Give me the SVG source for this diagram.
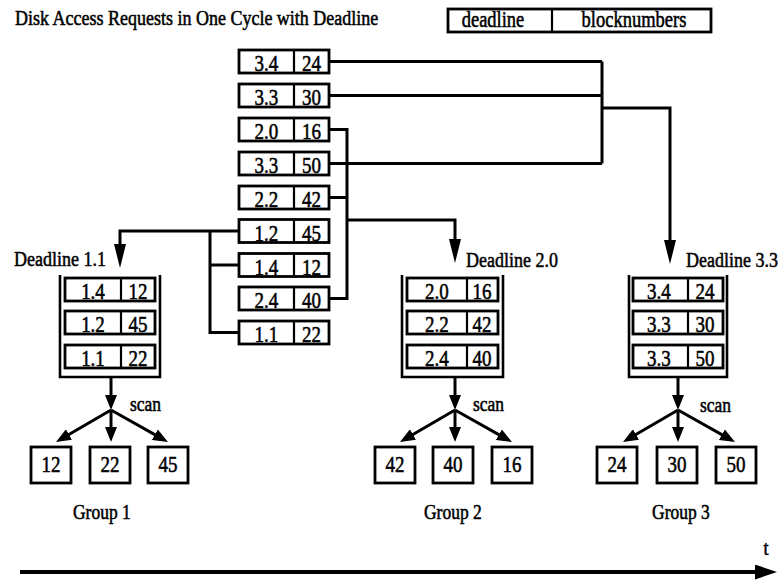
<svg xmlns="http://www.w3.org/2000/svg" width="778" height="586" viewBox="0 0 778 586">
  <style>
    .box { fill: #fff; stroke: #000; stroke-width: 2.8; }
    .sep { stroke: #000; stroke-width: 2.2; }
    .bin { fill: none; stroke: #000; stroke-width: 2.6; }
    .wire { fill: none; stroke: #000; stroke-width: 3; }
    .axis { fill: none; stroke: #000; stroke-width: 4; }
    .t { font-family: "Liberation Serif", "Times New Roman", serif; fill: #000;
         stroke: #000; stroke-width: 0.45;
         transform-box: fill-box; transform-origin: center; transform: scaleY(1.2); }
    .num { font-size: 19px; text-anchor: middle; }
    .lbl { font-size: 18px; }
    .sm { font-size: 17.5px; }
  </style>
  <defs>
    <marker id="headL" markerUnits="userSpaceOnUse" viewBox="0 0 24 12" markerWidth="24" markerHeight="12" refX="14" refY="6" orient="auto">
      <path d="M0,0 L24,6 L0,12 z" fill="#000"/>
    </marker>
    <marker id="headS" markerUnits="userSpaceOnUse" viewBox="0 0 15 12" markerWidth="15" markerHeight="12" refX="7" refY="6" orient="auto">
      <path d="M0,0 L15,6 L0,12 z" fill="#000"/>
    </marker>
    <marker id="headT" markerUnits="userSpaceOnUse" viewBox="0 0 22 15" markerWidth="22" markerHeight="15" refX="12" refY="7.5" orient="auto">
      <path d="M0,0 L22,7.5 L0,15 z" fill="#000"/>
    </marker>
    <!-- scan fan: shaft from the queue bottom, then three arrows to the block groups -->
    <g id="fan">
      <path class="wire" d="M0,377 V402" marker-end="url(#headS)"/>
      <path class="wire" d="M0,410 L-48.1,438" marker-end="url(#headS)"/>
      <path class="wire" d="M0,410 V434" marker-end="url(#headS)"/>
      <path class="wire" d="M0,410 L50,438.1" marker-end="url(#headS)"/>
    </g>
  </defs>

  <rect width="778" height="586" fill="#fff"/>

  <!-- heading and legend -->
  <g id="title">
    <text class="t lbl" x="15" y="23.8">Disk Access Requests in One Cycle with Deadline</text>
  </g>
  <g id="legend">
    <rect class="box" x="448" y="9" width="263" height="23"/>
    <line class="sep" x1="552" y1="9" x2="552" y2="32"/>
    <text class="t lbl" x="493" y="26" text-anchor="middle" style="font-size:18.5px">deadline</text>
    <text class="t lbl" x="634" y="26" text-anchor="middle" style="font-size:18.5px">blocknumbers</text>
  </g>

  <!-- connectors -->
  <g id="connectors">
    <!-- deadline 3.x requests -->
    <path class="wire" d="M329,61.5 H602"/>
    <path class="wire" d="M329,95.5 H602"/>
    <path class="wire" d="M329,163.5 H602"/>
    <path class="wire" d="M602,61.5 V163.5"/>
    <path class="wire" d="M602,108 H670 V254" marker-end="url(#headL)"/>
    <!-- deadline 2.x requests -->
    <path class="wire" d="M329,129.5 H347 V298.5 H329"/>
    <path class="wire" d="M329,197.5 H347"/>
    <path class="wire" d="M347,220 H455 V253" marker-end="url(#headL)"/>
    <!-- deadline 1.x requests -->
    <path class="wire" d="M239,231 H120 V258" marker-end="url(#headL)"/>
    <path class="wire" d="M210,231 V332.5 H239"/>
    <path class="wire" d="M210,265 H239"/>
    <!-- scan fans -->
    <use href="#fan" x="111"/>
    <use href="#fan" x="455"/>
    <use href="#fan" x="678"/>
    <!-- time axis -->
    <path class="axis" d="M20,572 H767" marker-end="url(#headT)"/>
  </g>

  <!-- incoming requests: deadline | block number -->
  <g id="req-1">
    <rect class="box" x="239" y="50" width="90" height="23"/>
    <line class="sep" x1="294" y1="50" x2="294" y2="73"/>
    <text class="t num" x="266.5" y="70.2">3.4</text>
    <text class="t num" x="311.5" y="70.2">24</text>
  </g>
  <g id="req-2">
    <rect class="box" x="239" y="84" width="90" height="23"/>
    <line class="sep" x1="294" y1="84" x2="294" y2="107"/>
    <text class="t num" x="266.5" y="104.2">3.3</text>
    <text class="t num" x="311.5" y="104.2">30</text>
  </g>
  <g id="req-3">
    <rect class="box" x="239" y="118" width="90" height="23"/>
    <line class="sep" x1="294" y1="118" x2="294" y2="141"/>
    <text class="t num" x="266.5" y="138.2">2.0</text>
    <text class="t num" x="311.5" y="138.2">16</text>
  </g>
  <g id="req-4">
    <rect class="box" x="239" y="152" width="90" height="23"/>
    <line class="sep" x1="294" y1="152" x2="294" y2="175"/>
    <text class="t num" x="266.5" y="172.2">3.3</text>
    <text class="t num" x="311.5" y="172.2">50</text>
  </g>
  <g id="req-5">
    <rect class="box" x="239" y="186" width="90" height="23"/>
    <line class="sep" x1="294" y1="186" x2="294" y2="209"/>
    <text class="t num" x="266.5" y="206.2">2.2</text>
    <text class="t num" x="311.5" y="206.2">42</text>
  </g>
  <g id="req-6">
    <rect class="box" x="239" y="219.5" width="90" height="23"/>
    <line class="sep" x1="294" y1="219.5" x2="294" y2="242.5"/>
    <text class="t num" x="266.5" y="239.7">1.2</text>
    <text class="t num" x="311.5" y="239.7">45</text>
  </g>
  <g id="req-7">
    <rect class="box" x="239" y="253.5" width="90" height="23"/>
    <line class="sep" x1="294" y1="253.5" x2="294" y2="276.5"/>
    <text class="t num" x="266.5" y="273.7">1.4</text>
    <text class="t num" x="311.5" y="273.7">12</text>
  </g>
  <g id="req-8">
    <rect class="box" x="239" y="287" width="90" height="23"/>
    <line class="sep" x1="294" y1="287" x2="294" y2="310"/>
    <text class="t num" x="266.5" y="307.2">2.4</text>
    <text class="t num" x="311.5" y="307.2">40</text>
  </g>
  <g id="req-9">
    <rect class="box" x="239" y="321" width="90" height="23"/>
    <line class="sep" x1="294" y1="321" x2="294" y2="344"/>
    <text class="t num" x="266.5" y="341.2">1.1</text>
    <text class="t num" x="311.5" y="341.2">22</text>
  </g>

  <!-- queue for deadline 1.1 -->
  <g id="queue-1">
    <text class="t lbl" x="14" y="264.8">Deadline 1.1</text>
    <path class="bin" d="M60,275 V377 H160 V275"/>
    <rect class="box" x="65" y="278" width="90" height="23"/>
    <line class="sep" x1="121" y1="278" x2="121" y2="301"/>
    <text class="t num" x="93" y="298.2">1.4</text>
    <text class="t num" x="138" y="298.2">12</text>
    <rect class="box" x="65" y="311" width="90" height="23"/>
    <line class="sep" x1="121" y1="311" x2="121" y2="334"/>
    <text class="t num" x="93" y="331.2">1.2</text>
    <text class="t num" x="138" y="331.2">45</text>
    <rect class="box" x="65" y="345" width="90" height="23"/>
    <line class="sep" x1="121" y1="345" x2="121" y2="368"/>
    <text class="t num" x="93" y="365.2">1.1</text>
    <text class="t num" x="138" y="365.2">22</text>
    <text class="t sm" x="130" y="410">scan</text>
  </g>

  <!-- queue for deadline 2.0 -->
  <g id="queue-2">
    <text class="t lbl" x="466" y="265.8">Deadline 2.0</text>
    <path class="bin" d="M402,275 V377 H503 V275"/>
    <rect class="box" x="407" y="278" width="91" height="23"/>
    <line class="sep" x1="467" y1="278" x2="467" y2="301"/>
    <text class="t num" x="437" y="298.2">2.0</text>
    <text class="t num" x="482" y="298.2">16</text>
    <rect class="box" x="407" y="311" width="91" height="23"/>
    <line class="sep" x1="467" y1="311" x2="467" y2="334"/>
    <text class="t num" x="437" y="331.2">2.2</text>
    <text class="t num" x="482" y="331.2">42</text>
    <rect class="box" x="407" y="345" width="91" height="23"/>
    <line class="sep" x1="467" y1="345" x2="467" y2="368"/>
    <text class="t num" x="437" y="365.2">2.4</text>
    <text class="t num" x="482" y="365.2">40</text>
    <text class="t sm" x="473" y="410">scan</text>
  </g>

  <!-- queue for deadline 3.3 -->
  <g id="queue-3">
    <text class="t lbl" x="686" y="265.8">Deadline 3.3</text>
    <path class="bin" d="M629,275 V377 H727 V275"/>
    <rect class="box" x="633" y="278" width="90" height="23"/>
    <line class="sep" x1="688" y1="278" x2="688" y2="301"/>
    <text class="t num" x="659" y="298.2">3.4</text>
    <text class="t num" x="705" y="298.2">24</text>
    <rect class="box" x="633" y="311" width="90" height="23"/>
    <line class="sep" x1="688" y1="311" x2="688" y2="334"/>
    <text class="t num" x="659" y="331.2">3.3</text>
    <text class="t num" x="705" y="331.2">30</text>
    <rect class="box" x="633" y="345" width="90" height="23"/>
    <line class="sep" x1="688" y1="345" x2="688" y2="368"/>
    <text class="t num" x="659" y="365.2">3.3</text>
    <text class="t num" x="705" y="365.2">50</text>
    <text class="t sm" x="700" y="411">scan</text>
  </g>

  <!-- block groups after scan ordering -->
  <g id="group-1">
    <rect class="box" x="31" y="447" width="40" height="36"/>
    <text class="t num" x="51" y="471.2">12</text>
    <rect class="box" x="90" y="447" width="40" height="36"/>
    <text class="t num" x="110" y="471.2">22</text>
    <rect class="box" x="148" y="447" width="40" height="36"/>
    <text class="t num" x="168" y="471.2">45</text>
    <text class="t sm" x="73" y="518">Group 1</text>
  </g>
  <g id="group-2">
    <rect class="box" x="375" y="447" width="40" height="36"/>
    <text class="t num" x="395" y="471.2">42</text>
    <rect class="box" x="433" y="447" width="40" height="36"/>
    <text class="t num" x="453" y="471.2">40</text>
    <rect class="box" x="492" y="447" width="40" height="36"/>
    <text class="t num" x="512" y="471.2">16</text>
    <text class="t sm" x="424" y="518">Group 2</text>
  </g>
  <g id="group-3">
    <rect class="box" x="597" y="447" width="40" height="36"/>
    <text class="t num" x="617" y="471.2">24</text>
    <rect class="box" x="657" y="447" width="40" height="36"/>
    <text class="t num" x="677" y="471.2">30</text>
    <rect class="box" x="716" y="447" width="40" height="36"/>
    <text class="t num" x="736" y="471.2">50</text>
    <text class="t sm" x="652" y="518">Group 3</text>
  </g>

  <g id="time-label">
    <text class="t lbl" x="766" y="554" text-anchor="middle">t</text>
  </g>
</svg>
